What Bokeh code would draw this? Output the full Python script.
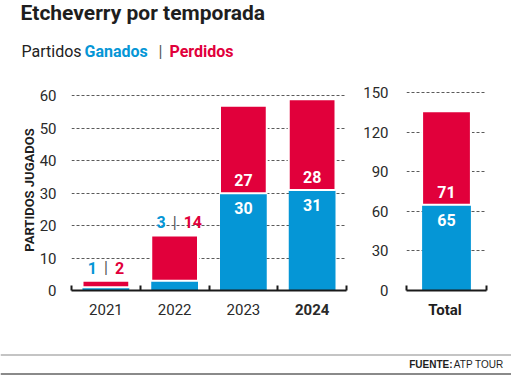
from bokeh.plotting import figure
from bokeh.models import (ColumnDataSource, Range1d, FixedTicker,
                          LinearAxis, Grid, Span)
from bokeh.layouts import column, row
from bokeh.embed import file_html
from bokeh.resources import INLINE
from bokeh.core.properties import value

# ---------------- data ----------------
title = "Etcheverry por temporada"
subtitle_parts = ["Partidos", "Ganados", "|", "Perdidos"]
seasons = ["2021", "2022", "2023", "2024"]
wins = [1, 3, 30, 31]
losses = [2, 14, 27, 28]
highlight = "2024"
total_label = "Total"
total_wins = 65
total_losses = 71
left_ticks = [0, 10, 20, 30, 40, 50, 60]
right_ticks = [0, 30, 60, 90, 120, 150]
y_title = "PARTIDOS JUGADOS"
source_bold = "FUENTE:"
source_name = "ATP TOUR"

# ---------------- style ----------------
BLUE = "#0596d6"
RED = "#e1003b"
INK = "#1e1e1e"
TICK_INK = "#2a2a2a"
GRID = "#5a5a5a"
FONT = "Roboto"


def blank(width, height, **kw):
    return figure(width=width, height=height, toolbar_location=None,
                  output_backend="svg", x_axis_type=None, y_axis_type=None,
                  outline_line_color=None, **kw)


# ---------------- header ----------------
hdr = blank(511, 70, x_range=Range1d(0, 511), y_range=Range1d(70, 0), min_border=0)
hdr.text(x=[20], y=[0], text=[title], text_font=value(FONT), text_font_size="21px",
         text_font_style="bold", text_color=INK, text_baseline="top", text_align="left")
sub_src = ColumnDataSource(dict(
    x=[21, 84, 158, 169],
    text=subtitle_parts,
    color=["#222222", BLUE, "#555555", RED],
    style=["normal", "bold", "normal", "bold"],
))
hdr.text(x="x", y=51, text="text", source=sub_src, text_font=value(FONT),
         text_font_size="16px", text_font_style="style", text_color="color",
         text_baseline="middle", text_align="left")

# ---------------- left chart ----------------
n = len(seasons)
xc = [i + 0.5 for i in range(n)]
tops = [w + l for w, l in zip(wins, losses)]
small = [w < 10 for w in wins]
src = ColumnDataSource(dict(
    x=xc, season=seasons, wins=wins, losses=losses, tops=tops,
    style=["bold" if s == highlight else "normal" for s in seasons],
))
src_out = ColumnDataSource(dict(
    x=[x for x, s in zip(xc, small) if s],
    tops=[t for t, s in zip(tops, small) if s],
    wtxt=[str(w) for w, s in zip(wins, small) if s],
    ltxt=[str(l) for l, s in zip(losses, small) if s],
))
src_in = ColumnDataSource(dict(
    x=[x for x, s in zip(xc, small) if not s],
    wins=[w for w, s in zip(wins, small) if not s],
    wtxt=[str(w) for w, s in zip(wins, small) if not s],
    ltxt=[str(l) for l, s in zip(losses, small) if not s],
))

lf = blank(360, 230, x_range=Range1d(0, n), y_range=Range1d(0, 62),
           min_border_left=71, min_border_right=14, min_border_top=19,
           min_border_bottom=10)


def style_axes(fig, yticks, xticks_minor, standoff):
    fig.add_layout(Grid(dimension=1, ticker=FixedTicker(ticks=yticks[1:]),
                        grid_line_color=GRID, grid_line_dash="3 2",
                        grid_line_width=1))
    ya = LinearAxis(ticker=FixedTicker(ticks=yticks), axis_line_color=None,
                    major_tick_line_color=None, minor_tick_line_color=None,
                    major_label_standoff=standoff,
                    major_label_text_font=FONT, major_label_text_font_size="15px",
                    major_label_text_color=TICK_INK)
    fig.add_layout(ya, "left")
    xa = LinearAxis(ticker=FixedTicker(ticks=[], minor_ticks=xticks_minor),
                    axis_line_color="#1a1a1a", axis_line_width=2,
                    major_tick_line_color=None, major_label_standoff=0,
                    minor_tick_line_color="#1a1a1a", minor_tick_line_width=2,
                    minor_tick_in=5, minor_tick_out=0)
    fig.add_layout(xa, "below")
    return ya


ya = style_axes(lf, left_ticks, list(range(n + 1)), 9)
ya.axis_label = y_title
ya.axis_label_text_font = FONT
ya.axis_label_text_font_size = "13px"
ya.axis_label_text_font_style = "bold"
ya.axis_label_text_color = INK
ya.axis_label_standoff = 0

lf.vbar(x="x", bottom=0, top="wins", width=0.68, source=src, fill_color=BLUE,
        line_color=None)
lf.vbar(x="x", bottom="wins", top="tops", width=0.68, source=src, fill_color=RED,
        line_color="white", line_width=2)

# labels above small bars
lbl = dict(text_baseline="middle", text_font=value(FONT), text_font_size="16px")
lf.text(x="x", y="tops", text="wtxt", source=src_out, x_offset=-9, y_offset=-13,
        text_align="right", text_font_style="bold", text_color=BLUE, **lbl)
lf.text(x="x", y="tops", text=value("|"), source=src_out, y_offset=-13,
        text_align="center", text_color="#555555", **lbl)
lf.text(x="x", y="tops", text="ltxt", source=src_out, x_offset=9, y_offset=-13,
        text_align="left", text_font_style="bold", text_color=RED, **lbl)
# labels inside big bars
lf.text(x="x", y="wins", text="ltxt", source=src_in, y_offset=-13,
        text_align="center", text_font_style="bold", text_color="white", **lbl)
lf.text(x="x", y="wins", text="wtxt", source=src_in, y_offset=15,
        text_align="center", text_font_style="bold", text_color="white", **lbl)

# category label strip under left chart
ls = blank(360, 30, x_range=lf.x_range, y_range=Range1d(30, 0),
           min_border_left=71, min_border_right=14, min_border_top=0,
           min_border_bottom=0)
ls.text(x="x", y=9, text="season", source=src, text_align="center",
        text_baseline="middle", text_font=value(FONT), text_font_size="15px",
        text_font_style="style", text_color=TICK_INK)

# ---------------- right chart ----------------
tsrc = ColumnDataSource(dict(
    x=[0.5], label=[total_label], wins=[total_wins], losses=[total_losses],
    tops=[total_wins + total_losses], wtxt=[str(total_wins)],
    ltxt=[str(total_losses)],
))
rf = blank(151, 230, x_range=Range1d(0, 1), y_range=Range1d(0, 152.5),
           min_border_left=43, min_border_right=25, min_border_top=19,
           min_border_bottom=10)
style_axes(rf, right_ticks, [0, 1], 12)
rf.vbar(x="x", bottom=0, top="wins", width=0.61, source=tsrc, fill_color=BLUE,
        line_color=None)
rf.vbar(x="x", bottom="wins", top="tops", width=0.61, source=tsrc, fill_color=RED,
        line_color="white", line_width=2)
rf.text(x="x", y="wins", text="ltxt", source=tsrc, y_offset=-13,
        text_align="center", text_font_style="bold", text_color="white", **lbl)
rf.text(x="x", y="wins", text="wtxt", source=tsrc, y_offset=15,
        text_align="center", text_font_style="bold", text_color="white", **lbl)

rs = blank(151, 30, x_range=rf.x_range, y_range=Range1d(30, 0),
           min_border_left=43, min_border_right=25, min_border_top=0,
           min_border_bottom=0)
rs.text(x="x", y=9, text="label", source=tsrc, text_align="center",
        text_baseline="middle", text_font=value(FONT), text_font_size="15px",
        text_font_style="bold", text_color=INK)

# ---------------- footer ----------------
ft = blank(511, 45, x_range=Range1d(0, 511), y_range=Range1d(45, 0), min_border=0)
ft.add_layout(Span(location=24.5, dimension="width", line_color="#c4c4c4", line_width=2))
ft.add_layout(Span(location=43.5, dimension="width", line_color="#8a8a8a", line_width=2))
ft.text(x=[452], y=[34], text=[source_bold], text_font=value("Liberation Sans"),
        text_font_size="10px", text_font_style="bold", text_color=INK,
        text_align="right", text_baseline="middle")
ft.text(x=[503], y=[34], text=[source_name], text_font=value("Liberation Sans"),
        text_font_size="10px", text_color=INK,
        text_align="right", text_baseline="middle")

layout = column(hdr, row(lf, rf), row(ls, rs), ft)
open("out.html", "w").write(file_html(layout, INLINE))
